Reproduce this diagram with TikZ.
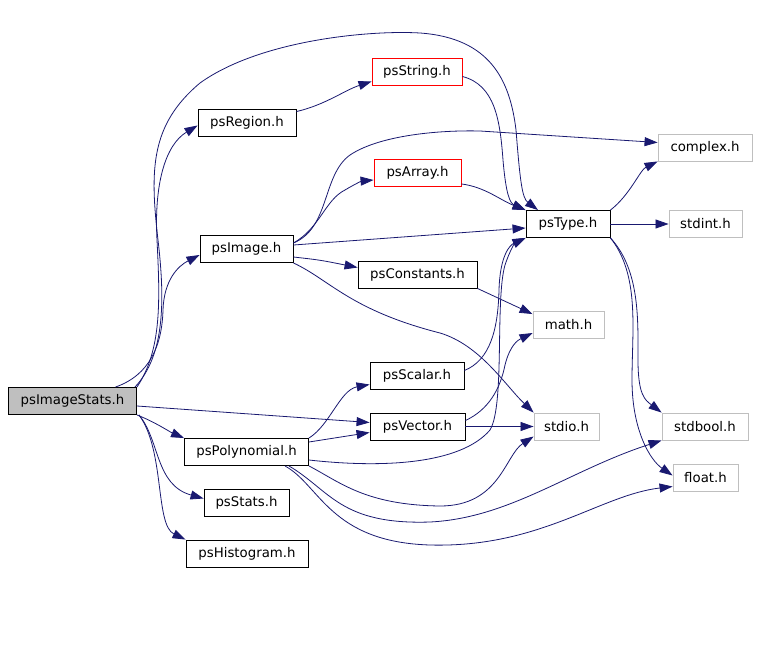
\documentclass[tikz,border=0pt]{standalone}
\usepackage{fontspec}
\setmainfont{DejaVu Sans}
\usetikzlibrary{arrows.meta}
\definecolor{edgeblue}{HTML}{191970}
\definecolor{sysgray}{HTML}{BFBFBF}

\begin{document}
\begin{tikzpicture} [x=1pt, y=-1pt, >={Triangle[length=13pt,width=9pt]},
	every node/.style={font=\fontsize{13.3}{16}\selectfont, minimum height=27pt, inner sep=0pt, line width=0.9pt},
	hdr/.style={draw=black},
	badhdr/.style={draw=red},
	syshdr/.style={draw=sysgray},
	roothdr/.style={draw=black, fill=sysgray},
	dep/.style={->, draw=edgeblue, fill=none, line width=0.8pt}]
		\useasboundingbox (0,0) rectangle (759,650);
		\node[roothdr, minimum width=128pt] (psImageStats) at (72.5,401) {psImageStats.h};
		\node[hdr, minimum width=98pt] (psRegion) at (247,122.5) {psRegion.h};
		\node[badhdr, minimum width=90pt] (psString) at (417,71.5) {psString.h};
		\node[badhdr, minimum width=87pt] (psArray) at (417.5,173) {psArray.h};
		\node[hdr, minimum width=93pt] (psImage) at (246.5,249) {psImage.h};
		\node[hdr, minimum width=119pt] (psConstants) at (417.5,274.5) {psConstants.h};
		\node[hdr, minimum width=84pt] (psType) at (568,224) {psType.h};
		\node[syshdr, minimum width=94pt] (complex) at (705,147.5) {complex.h};
		\node[syshdr, minimum width=73pt] (stdint) at (705.5,224) {stdint.h};
		\node[syshdr, minimum width=71pt] (math) at (568.5,325) {math.h};
		\node[hdr, minimum width=94pt] (psScalar) at (417,375.5) {psScalar.h};
		\node[hdr, minimum width=95pt] (psVector) at (417.5,426.5) {psVector.h};
		\node[syshdr, minimum width=65pt] (stdio) at (566.5,426.5) {stdio.h};
		\node[syshdr, minimum width=86pt] (stdbool) at (705,426.5) {stdbool.h};
		\node[syshdr, minimum width=65pt] (float) at (705.5,477.5) {float.h};
		\node[hdr, minimum width=124pt] (psPolynomial) at (246.5,452) {psPolynomial.h};
		\node[hdr, minimum width=85pt] (psStats) at (246.5,502.5) {psStats.h};
		\node[hdr, minimum width=122pt] (psHistogram) at (247,553.5) {psHistogram.h};
		\draw[dep] (psImageStats.18) .. controls (150,375) and (162,345) .. (163,310) .. controls (164,280) and (178,266) .. ([yshift=-6pt]psImage.west);
		\draw[dep] (psImageStats.north east) .. controls (162,350) and (160,300) .. (157,240) .. controls (154,185) and (165,145) .. ([yshift=-3pt]psRegion.west);
		\draw[dep] ([xshift=-2pt]psImageStats.north east) .. controls (165,355) and (165,300) .. (158,240) .. controls (150,170) and (150,125) .. (200,83) .. controls (260,40) and (370,30) .. (420,33) .. controls (490,38) and (510,80) .. (516,130) .. controls (520,180) and (522,198) .. ([xshift=-30pt]psType.north);
		\draw[dep] ([yshift=-5pt]psImageStats.east) -- ([yshift=4pt]psVector.west);
		\draw[dep] (psImageStats.south east) .. controls (155,422) and (170,432) .. (psPolynomial.north west);
		\draw[dep] ([xshift=2pt]psImageStats.south east) .. controls (160,440) and (155,485) .. ([yshift=4pt]psStats.west);
		\draw[dep] ([xshift=2pt]psImageStats.south east) .. controls (165,450) and (155,525) .. (psHistogram.north west);
		\draw[dep] ([yshift=-3pt]psRegion.north east) .. controls (325,105) and (345,90) .. ([yshift=-10pt]psString.west);
		\draw[dep] ([yshift=-5pt]psString.east) .. controls (495,85) and (500,120) .. (503,160) .. controls (506,195) and (510,203) .. (psType.north west);
		\draw[dep] ([yshift=6pt]psImage.east) .. controls (330,228) and (322,175) .. (350,155) .. controls (380,135) and (440,130) .. (480,131) -- ([yshift=5pt]complex.west);
		\draw[dep] ([yshift=6pt]psImage.east) .. controls (320,228) and (325,200) .. (345,190) .. controls (355,184) and (362,181) .. ([yshift=-7pt]psArray.west);
		\draw[dep] ([yshift=4pt]psImage.east) -- ([yshift=-4pt]psType.west);
		\draw[dep] ([yshift=-8pt]psImage.east) .. controls (320,260) .. ([yshift=7pt]psConstants.west);
		\draw[dep] (psImage.south east) .. controls (330,280) and (350,310) .. (440,333) .. controls (480,345) and (505,385) .. (stdio.north west);
		\draw[dep] ([yshift=3pt]psArray.south east) .. controls (485,187) and (500,200) .. (psType.north west);
		\draw[dep] (psConstants.south east) -- ([yshift=-3pt]math.north west);
		\draw[dep] (psType.north east) .. controls (630,195) and (640,170) .. (complex.south west);
		\draw[dep] (psType) -- (stdint);
		\draw[dep] (psType.south east) .. controls (640,270) and (638,320) .. (638,360) .. controls (638,395) and (645,400) .. (stdbool.north west);
		\draw[dep] (psType.south east) .. controls (640,275) and (632,330) .. (632,380) .. controls (632,430) and (650,460) .. ([yshift=2pt]float.west);
		\draw[dep] ([yshift=5pt]psScalar.east) .. controls (490,360) and (498,330) .. (499,290) .. controls (500,255) and (510,245) .. (psType.south west);
		\draw[dep] ([yshift=6pt]psVector.east) .. controls (488,410) and (500,390) .. (505,365) .. controls (510,345) and (518,340) .. ([yshift=-8pt]math.west);
		\draw[dep] (psVector) -- (stdio);
		\draw[dep] (psPolynomial.north east) .. controls (330,425) and (340,390) .. ([yshift=-9pt]psScalar.west);
		\draw[dep] ([yshift=10pt]psPolynomial.east) -- ([yshift=-6pt]psVector.west);
		\draw[dep] ([yshift=-8pt]psPolynomial.east) .. controls (380,468) and (460,465) .. (490,430) .. controls (505,405) and (495,300) .. (505,265) .. controls (510,250) and (515,243) .. (psType.south west);
		\draw[dep] (psPolynomial.south east) .. controls (340,482) and (365,505) .. (440,506) .. controls (500,506) and (505,455) .. ([yshift=-10pt]stdio.west);
		\draw[dep] ([xshift=-20pt]psPolynomial.south east) .. controls (330,490) and (340,525) .. (430,522) .. controls (510,518) and (570,470) .. (stdbool.south west);
		\draw[dep] ([xshift=-24pt]psPolynomial.south east) .. controls (320,485) and (330,542) .. (430,545) .. controls (540,548) and (600,495) .. ([yshift=-9pt]float.west);
		\end{tikzpicture}
\end{document}
